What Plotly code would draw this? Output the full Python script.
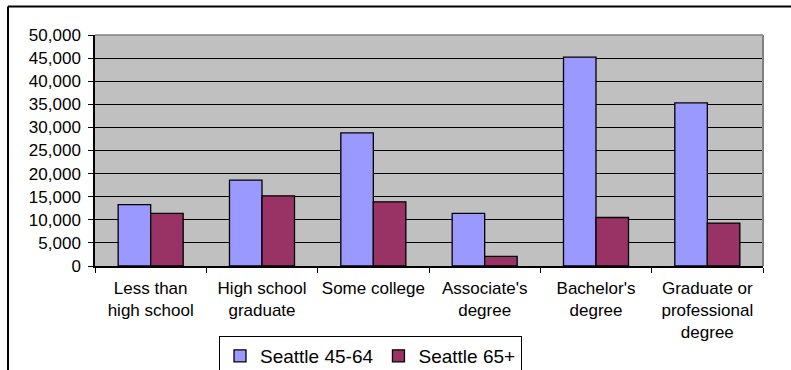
import plotly.graph_objects as go

# Education attainment counts by age group
categories = [
    "Less than<br>high school",
    "High school<br>graduate",
    "Some college",
    "Associate's<br>degree",
    "Bachelor's<br>degree",
    "Graduate or<br>professional<br>degree",
]
seattle_45_64 = [13300, 18600, 28800, 11400, 45200, 35300]
seattle_65_plus = [11400, 15200, 13900, 2100, 10500, 9300]
y_ticks = [0, 5000, 10000, 15000, 20000, 25000, 30000, 35000, 40000, 45000, 50000]

FONT = "Liberation Sans, Arial, sans-serif"
W, H = 791, 370
L, R, T, B = 95, 763, 35, 266  # plot area edges in pixels

fig = go.Figure()
fig.add_trace(go.Bar(
    name="Seattle 45-64", x=categories, y=seattle_45_64,
    marker=dict(color="#9999FF", line=dict(color="black", width=1.3)),
))
fig.add_trace(go.Bar(
    name="Seattle 65+", x=categories, y=seattle_65_plus,
    marker=dict(color="#993366", line=dict(color="black", width=1.3)),
))

def px_x(p):
    return (p - L) / (R - L)

def px_y(p):
    return (B - p) / (B - T)

shapes = [
    # plot area border (top and right, grey)
    dict(type="line", xref="paper", yref="paper", x0=0, x1=1, y0=1, y1=1,
         line=dict(color="#808080", width=1.5)),
    dict(type="line", xref="paper", yref="paper", x0=1, x1=1, y0=0, y1=1,
         line=dict(color="#808080", width=2)),
    # chart frame (top and left)
    dict(type="line", xref="paper", yref="paper", x0=px_x(8), x1=px_x(800),
         y0=px_y(6.5), y1=px_y(6.5), line=dict(color="black", width=2)),
    dict(type="line", xref="paper", yref="paper", x0=px_x(8), x1=px_x(8),
         y0=px_y(6.5), y1=px_y(380), line=dict(color="black", width=2)),
]

fig.update_layout(
    width=W, height=H,
    margin=dict(l=L, r=W - R, t=T, b=H - B, pad=0, autoexpand=False),
    paper_bgcolor="white",
    plot_bgcolor="#C0C0C0",
    barmode="group",
    bargap=0.416,
    bargroupgap=0,
    font=dict(family=FONT, size=17, color="black"),
    shapes=shapes,
    legend=dict(
        orientation="h",
        xref="container", yref="container",
        x=370.5 / W, xanchor="center",
        y=1 - 336 / H, yanchor="top",
        bgcolor="white", bordercolor="black", borderwidth=1,
        font=dict(family=FONT, size=19, color="black"),
        itemwidth=30,
        traceorder="normal",
    ),
)

fig.update_xaxes(
    type="category",
    automargin=False,
    tickangle=0,
    showline=True, linecolor="black", linewidth=1.5,
    ticks="outside", tickson="boundaries", ticklen=5, tickcolor="black", tickwidth=1,
    showgrid=False,
    tickfont=dict(family=FONT, size=17, color="black"),
    ticklabelstandoff=6,
)
fig.update_yaxes(
    range=[0, 50000],
    automargin=False,
    tickvals=y_ticks,
    tickformat=",d",
    showline=True, linecolor="black", linewidth=1.5,
    ticks="outside", ticklen=5, tickcolor="black", tickwidth=1,
    showgrid=True, gridcolor="black", gridwidth=1,
    zeroline=False,
    tickfont=dict(family=FONT, size=17, color="black"),
    ticklabelstandoff=4,
)

fig.write_html("out.html")
